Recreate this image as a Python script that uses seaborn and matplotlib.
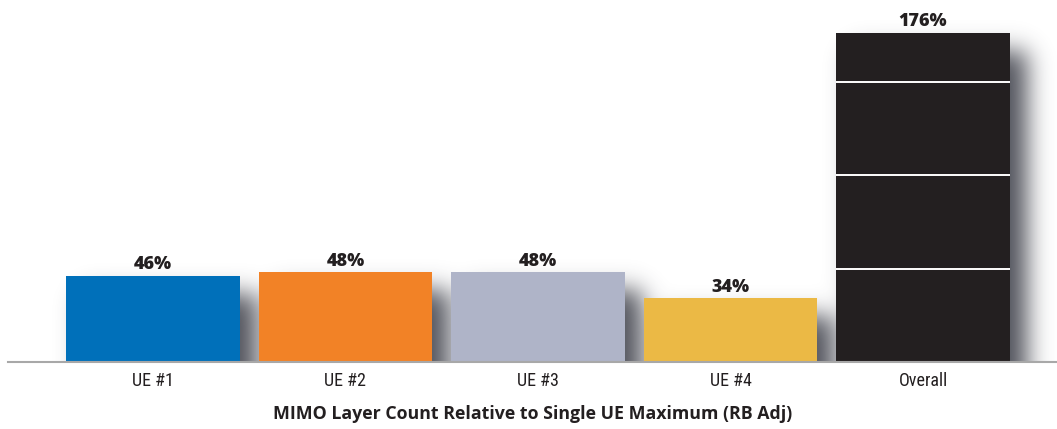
import numpy as np
import pandas as pd
import matplotlib
matplotlib.use("Agg")
import matplotlib.pyplot as plt
import seaborn as sns

# Chart data
categories = ["UE #1", "UE #2", "UE #3", "UE #4", "Overall"]
values = [46, 48, 48, 34, 176]
colors = ["#0070BA", "#F28226", "#AFB4C8", "#EBB945", "#231F20"]
grid_levels = [50, 100, 150]
x_title = "MIMO Layer Count Relative to Single UE Maximum (RB Adj)"

sns.set_theme(style="white")
plt.rcParams["font.family"] = ["Open Sans", "DejaVu Sans"]

df = pd.DataFrame({"category": categories, "value": values})

W, H, DPI = 1057, 429, 100
fig = plt.figure(figsize=(W / DPI, H / DPI), dpi=DPI)
fig.patch.set_facecolor("white")
ax = fig.add_axes([8 / W, 67 / H, 1 - 8 / W, 1 - 67 / H])

sns.barplot(data=df, x="category", y="value", hue="category", palette=colors,
            legend=False, width=0.9, saturation=1, linewidth=0,
            ax=ax, zorder=3)
xlim = (-0.753, 4.696)
ylim = (0, 193.7)
ax.set_xlim(*xlim)
ax.set_ylim(*ylim)

patches = [p for c in ax.containers for p in c]

# Soft drop shadow behind each bar, built as a blurred mask in pixel space
fig.canvas.draw()
bb = ax.get_window_extent()
pw, ph = int(round(bb.width)), int(round(bb.height))
pad = 80
mask = np.zeros((ph + 2 * pad, pw + 2 * pad))
dx, dy = 17, 18
for p in patches:
    (x0, y0), (x1, y1) = ax.transData.transform(
        [(p.get_x(), 0), (p.get_x() + p.get_width(), p.get_height())])
    c0 = int(round(x0 - bb.x0)) + dx + pad
    c1 = int(round(x1 - bb.x0)) + dx + pad
    r0 = int(round(y0 - bb.y0)) + pad - 60
    r1 = int(round(y1 - bb.y0)) - dy + pad
    mask[max(r0, 0):r1, c0:c1] = 1.0

sigma = 12.0
k = np.arange(-int(4 * sigma), int(4 * sigma) + 1)
kern = np.exp(-0.5 * (k / sigma) ** 2)
kern /= kern.sum()
blur = np.apply_along_axis(lambda r: np.convolve(r, kern, mode="same"), 1, mask)
blur = np.apply_along_axis(lambda r: np.convolve(r, kern, mode="same"), 0, blur)
blur = blur[pad:pad + ph, pad:pad + pw]

rgba = np.zeros((ph, pw, 4))
rgba[..., 0] = 0.22
rgba[..., 1] = 0.23
rgba[..., 2] = 0.27
rgba[..., 3] = np.clip(blur * 0.88, 0, 1)
ax.imshow(rgba, origin="lower", extent=(*xlim, *ylim), aspect="auto",
          zorder=1, interpolation="bilinear")
ax.set_xlim(*xlim)
ax.set_ylim(*ylim)

# White gridlines show only across the bars they cross
for p in patches:
    for g in grid_levels:
        if g < p.get_height():
            ax.hlines(g, p.get_x(), p.get_x() + p.get_width(),
                      color="white", lw=1.4, zorder=4)

for cont in ax.containers:
    ax.bar_label(cont, fmt="{:.0f}%", padding=2, fontsize=13,
                 fontweight="heavy", color="#231F20")

for s in ["left", "top", "right"]:
    ax.spines[s].set_visible(False)
ax.spines["bottom"].set_color("#A8A8A8")
ax.spines["bottom"].set_linewidth(1.5)
ax.spines["bottom"].set_zorder(5)

ax.set_yticks([])
ax.set_ylabel("")
ax.tick_params(axis="x", length=0, pad=7, labelsize=13, labelcolor="#231F20")
for lbl in ax.get_xticklabels():
    lbl.set_family(["Roboto Condensed", "DejaVu Sans"])
ax.set_xlabel(x_title, fontsize=12.8, fontweight="bold", color="#231F20",
              labelpad=11)
ax.set_facecolor("white")

fig.savefig("out.png", dpi=DPI, facecolor="white")
